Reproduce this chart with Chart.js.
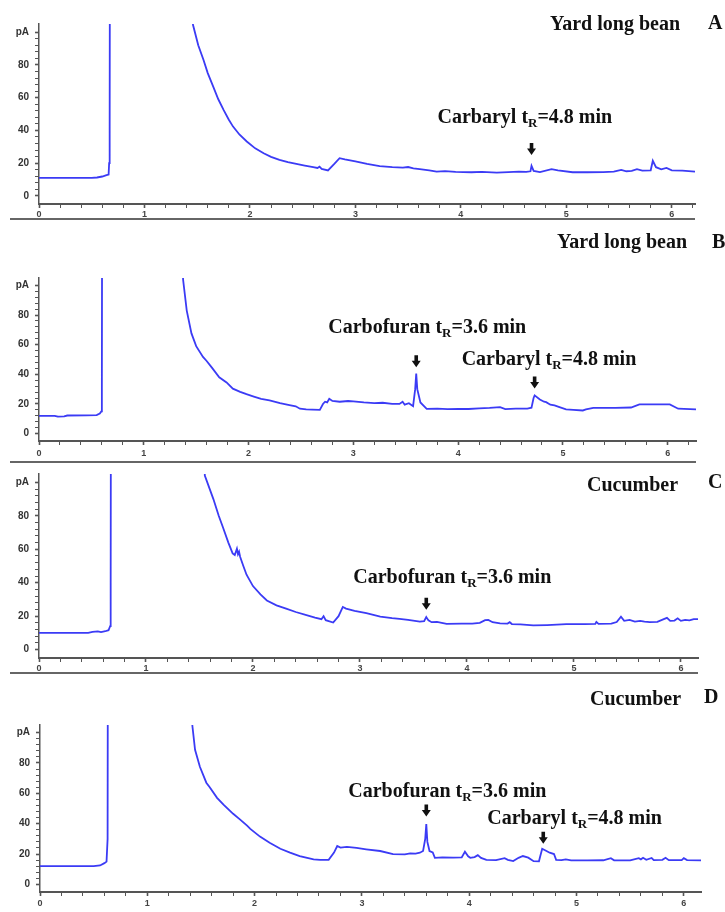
<!DOCTYPE html>
<html>
<head>
<meta charset="utf-8">
<script src="https://cdn.jsdelivr.net/npm/chart.js@4.4.1/dist/chart.umd.min.js"></script>
<style>
  body { margin: 0; background: #fff; }
  #wrap { position: relative; width: 725px; height: 912px; overflow: hidden; }
  #wrap canvas { position: absolute; left: 0; }
  .sep { position: absolute; left: 10px; height: 2px; background: #666; }
</style>
</head>
<body>
<div id="wrap">
  <canvas id="chartA" width="725" height="226" style="top:0px"></canvas>
  <canvas id="chartB" width="725" height="234" style="top:228px"></canvas>
  <canvas id="chartC" width="725" height="212" style="top:462px"></canvas>
  <canvas id="chartD" width="725" height="238" style="top:674px"></canvas>
  <div class="sep" style="top:218px;width:685px"></div>
  <div class="sep" style="top:461px;width:686px"></div>
  <div class="sep" style="top:672px;width:688px"></div>
</div>
<script>
// retention time (min) and signal (pA); 300 = off scale
const timeA = [0, 0.3, 0.5, 0.55, 0.6, 0.64, 0.66, 0.665, 0.67, 0.675, 1.40, 1.46, 1.51, 1.56, 1.60, 1.65, 1.70, 1.75, 1.80, 1.84, 1.90, 1.97, 2.05, 2.13, 2.20, 2.28, 2.36, 2.44, 2.52, 2.60, 2.64, 2.66, 2.68, 2.74, 2.80, 2.85, 2.90, 3.00, 3.11, 3.23, 3.35, 3.45, 3.50, 3.55, 3.61, 3.70, 3.77, 3.85, 3.95, 4.10, 4.20, 4.34, 4.45, 4.55, 4.62, 4.66, 4.67, 4.69, 4.75, 4.86, 4.92, 5.06, 5.20, 5.35, 5.45, 5.52, 5.57, 5.62, 5.67, 5.72, 5.80, 5.82, 5.85, 5.90, 5.95, 6.00, 6.10, 6.22];
const signalA = [11, 11, 11, 11.2, 11.8, 12.6, 13, 20, 40, 300, 300, 104.5, 92, 83, 75, 67, 59, 52.5, 46.5, 42.3, 37.5, 33.2, 29, 26, 23.8, 22, 20.6, 19.5, 18.5, 17.5, 17, 17.8, 16.5, 15.5, 19.5, 23, 22.2, 21, 19.5, 18.2, 17.5, 17.2, 17.6, 16.8, 16.3, 15.6, 14.8, 15.1, 14.6, 14.4, 14.6, 14.2, 14.5, 14.8, 14.6, 15, 18.3, 15.2, 14.5, 16.3, 15.6, 14.4, 14.4, 14.5, 14.8, 15.8, 15.0, 15.2, 16.3, 15.4, 15.6, 21.4, 17.5, 16.2, 17, 15.6, 15.4, 14.8];

const timeB = [0, 0.15, 0.18, 0.24, 0.27, 0.45, 0.55, 0.58, 0.595, 0.60, 0.605, 1.32, 1.375, 1.41, 1.455, 1.50, 1.565, 1.60, 1.65, 1.72, 1.79, 1.85, 1.92, 1.98, 2.05, 2.12, 2.20, 2.30, 2.39, 2.45, 2.49, 2.55, 2.61, 2.68, 2.71, 2.73, 2.75, 2.77, 2.80, 2.87, 2.95, 3.00, 3.10, 3.20, 3.28, 3.37, 3.44, 3.47, 3.49, 3.53, 3.57, 3.59, 3.60, 3.61, 3.64, 3.70, 3.80, 3.90, 4.00, 4.10, 4.20, 4.30, 4.40, 4.45, 4.55, 4.66, 4.70, 4.72, 4.73, 4.78, 4.82, 4.84, 4.88, 4.92, 4.96, 5.03, 5.10, 5.19, 5.22, 5.29, 5.50, 5.65, 5.73, 6.02, 6.10, 6.27];
const signalB = [12, 12, 11.4, 11.6, 12.2, 12.3, 12.5, 13.5, 15, 30, 300, 300, 104, 83, 67.6, 59, 51.7, 49, 44.5, 38, 34.5, 30.3, 28.2, 26.6, 25, 23.5, 22.4, 20.5, 19.2, 18.4, 16.8, 16.4, 16.2, 16, 20, 21.5, 21, 23.5, 22, 21.5, 22, 21.8, 21, 20.6, 20.8, 20, 20, 21.5, 19.5, 20.5, 18.5, 30, 40.5, 30, 21, 16.7, 16.8, 16.5, 16.7, 16.6, 17, 17.3, 17.8, 16.5, 16.8, 16.9, 17.5, 24, 25.8, 23, 21.5, 21.2, 19.5, 19, 18, 16.3, 16, 15.6, 16.3, 17.3, 17.4, 17.6, 19.7, 19.7, 16.8, 16.3];

const timeC = [0, 0.46, 0.50, 0.55, 0.58, 0.62, 0.65, 0.665, 0.67, 0.675, 1.48, 1.55, 1.63, 1.68, 1.72, 1.77, 1.81, 1.83, 1.85, 1.86, 1.87, 1.88, 1.91, 1.94, 2.00, 2.07, 2.13, 2.22, 2.31, 2.40, 2.50, 2.58, 2.64, 2.66, 2.68, 2.75, 2.80, 2.84, 2.87, 2.95, 3.06, 3.19, 3.30, 3.37, 3.45, 3.56, 3.60, 3.62, 3.64, 3.67, 3.72, 3.81, 3.95, 4.05, 4.12, 4.17, 4.20, 4.24, 4.31, 4.38, 4.40, 4.42, 4.50, 4.62, 4.75, 4.93, 5.10, 5.20, 5.21, 5.23, 5.35, 5.40, 5.44, 5.47, 5.52, 5.57, 5.62, 5.66, 5.71, 5.78, 5.84, 5.87, 5.90, 5.94, 5.97, 6.00, 6.04, 6.08, 6.12, 6.16];
const signalC = [10, 10, 10.6, 10.9, 10.5, 11, 11.6, 14, 40, 300, 300, 104, 90, 80, 73, 64, 57.5, 56.5, 60.3, 57, 58.5, 55.5, 50, 44.8, 38, 33, 29.4, 26.5, 24.5, 22.5, 20.7, 19.2, 18.2, 20, 17.6, 16.2, 20, 25.5, 24.5, 23.2, 21.8, 19.8, 18.8, 18.4, 17.8, 16.8, 17, 19.5, 17.5, 16.4, 16.6, 15.4, 15.5, 15.6, 16, 17.6, 17.8, 16.4, 15.7, 15.6, 16.4, 15.3, 15.1, 14.5, 14.7, 15.2, 15.3, 15.4, 16.6, 15.4, 15.5, 16.5, 19.7, 17.2, 17.8, 16.8, 17.2, 16.8, 16.4, 16.6, 18.2, 19, 17.2, 17.4, 18.7, 17.2, 17.8, 17.5, 18.2, 18.2];

const timeD = [0, 0.50, 0.56, 0.60, 0.62, 0.63, 0.635, 1.36, 1.42, 1.445, 1.49, 1.55, 1.58, 1.65, 1.71, 1.80, 1.86, 1.93, 1.96, 2.05, 2.14, 2.24, 2.33, 2.42, 2.49, 2.55, 2.61, 2.69, 2.74, 2.77, 2.80, 2.86, 2.95, 3.04, 3.17, 3.29, 3.40, 3.45, 3.50, 3.54, 3.57, 3.59, 3.60, 3.61, 3.63, 3.66, 3.68, 3.75, 3.85, 3.93, 3.96, 3.99, 4.01, 4.05, 4.08, 4.11, 4.16, 4.25, 4.33, 4.36, 4.41, 4.46, 4.50, 4.55, 4.60, 4.65, 4.66, 4.68, 4.72, 4.75, 4.79, 4.81, 4.86, 4.90, 4.95, 5.10, 5.25, 5.32, 5.35, 5.50, 5.58, 5.60, 5.62, 5.65, 5.70, 5.72, 5.80, 5.83, 5.86, 5.98, 6.00, 6.03, 6.17];
const signalD = [12, 12, 12.5, 14, 15, 30, 300, 300, 104.5, 88.7, 77.5, 67, 64.2, 57, 52.5, 46.5, 43, 38.7, 36.6, 31.5, 27.5, 23.5, 20.9, 18.7, 17.5, 16.5, 16.2, 16.2, 21, 25.3, 24.2, 24.7, 24, 23.1, 22, 19.9, 19.8, 20.5, 20.3, 20.9, 22, 30, 39.8, 28, 22, 21, 17.5, 17.8, 17.6, 17.8, 21.5, 18.5, 17.5, 18, 19.3, 17.5, 16.2, 16, 17.3, 16.2, 15.4, 17.5, 18.7, 17.6, 15.3, 15.2, 18, 23.5, 22, 20.9, 20, 16.2, 16, 16.5, 15.8, 15.8, 15.9, 17.3, 15.9, 15.8, 17.3, 16.5, 17.5, 16.2, 17.4, 16.0, 16.2, 17.5, 16, 16, 17.3, 16, 15.8];

const xTickLabels = ['0', '1', '2', '3', '4', '5', '6'];
const yTickValues = [0, 20, 40, 60, 80, 100];
const yTickLabels = ['0', '20', '40', '60', '80', 'pA'];

const traceColor = '#3b3bf5';
const serif = '"Liberation Serif", "Times New Roman", serif';

const panels = [
  { id: 'chartA', t: timeA, s: signalA, xMax: 6.22, padTop: 24, padRight: 30, yWidth: 39, xHeight: 22, xPad: 1,
    title: 'Yard long bean', titleX: 550, titleY: 30, letter: 'A', letterX: 708, letterY: 29,
    notes: [{ name: 'Carbaryl t', rest: '=4.8 min', t: 4.67, v: 25, dx: -94, dy: -32 }] },
  { id: 'chartB', t: timeB, s: signalB, xMax: 6.27, padTop: 50, padRight: 29, yWidth: 39, xHeight: 21, xPad: 3,
    title: 'Yard long bean', titleX: 557, titleY: 20, letter: 'B', letterX: 712, letterY: 20,
    notes: [{ name: 'Carbofuran t', rest: '=3.6 min', t: 3.6, v: 44.7, dx: -88, dy: -34 },
            { name: 'Carbaryl t', rest: '=4.8 min', t: 4.73, v: 30.5, dx: -73, dy: -23 }] },
  { id: 'chartC', t: timeC, s: signalC, xMax: 6.16, padTop: 8, padRight: 27, yWidth: 39, xHeight: 16, xPad: 1,
    title: 'Cucumber', titleX: 587, titleY: 29, letter: 'C', letterX: 708, letterY: 26,
    notes: [{ name: 'Carbofuran t', rest: '=3.6 min', t: 3.62, v: 23.8, dx: -73, dy: -27 }] },
  { id: 'chartD', t: timeD, s: signalD, xMax: 6.16, padTop: 51, padRight: 24, yWidth: 40, xHeight: 20, xPad: 2,
    title: 'Cucumber', titleX: 590, titleY: 31, letter: 'D', letterX: 704, letterY: 29,
    notes: [{ name: 'Carbofuran t', rest: '=3.6 min', t: 3.6, v: 44.7, dx: -78, dy: -20 },
            { name: 'Carbaryl t', rest: '=4.8 min', t: 4.69, v: 26.7, dx: -56, dy: -20 }] }
];

// labels, arrows and peak annotations
const notesPlugin = {
  id: 'notes',
  afterDraw(chart) {
    const p = chart.options.plugins.notes;
    const ctx = chart.ctx;
    const xs = chart.scales.x, ys = chart.scales.y;
    ctx.save();
    ctx.fillStyle = '#111';
    ctx.textBaseline = 'alphabetic';
    ctx.textAlign = 'left';
    ctx.font = 'bold 20px ' + serif;
    ctx.fillText(p.title, p.titleX, p.titleY);
    ctx.fillText(p.letter, p.letterX, p.letterY);
    p.notes.forEach(n => {
      const ax = xs.getPixelForValue(n.t);
      const ay = ys.getPixelForValue(n.v);
      // arrow
      ctx.beginPath();
      ctx.moveTo(ax - 1.8, ay - 12);
      ctx.lineTo(ax + 1.8, ay - 12);
      ctx.lineTo(ax + 1.8, ay - 6.5);
      ctx.lineTo(ax + 4.5, ay - 6.5);
      ctx.lineTo(ax, ay);
      ctx.lineTo(ax - 4.5, ay - 6.5);
      ctx.lineTo(ax - 1.8, ay - 6.5);
      ctx.closePath();
      ctx.fill();
      // text with subscript R
      let x = ax + n.dx;
      const y = ay + n.dy;
      ctx.font = 'bold 20px ' + serif;
      ctx.fillText(n.name, x, y);
      x += ctx.measureText(n.name).width;
      ctx.font = 'bold 13px ' + serif;
      ctx.fillText('R', x, y + 4);
      x += ctx.measureText('R').width;
      ctx.font = 'bold 20px ' + serif;
      ctx.fillText(n.rest, x, y);
    });
    ctx.restore();
  }
};

panels.forEach(p => {
  const points = p.t.map((t, i) => ({ x: t, y: p.s[i] }));
  new Chart(document.getElementById(p.id), {
    type: 'line',
    data: {
      datasets: [{
        data: points,
        borderColor: traceColor,
        borderWidth: 1.8,
        pointRadius: 0,
        tension: 0,
        fill: false
      }]
    },
    options: {
      responsive: false,
      animation: false,
      events: [],
      layout: { padding: { top: p.padTop, right: p.padRight, left: 0, bottom: 0 } },
      plugins: {
        legend: { display: false },
        tooltip: { enabled: false },
        notes: p
      },
      scales: {
        x: {
          type: 'linear',
          min: 0,
          max: p.xMax,
          afterFit: s => { s.height = p.xHeight; s.paddingLeft = 0; s.paddingRight = 0; },
          border: { display: true, color: '#555', width: 2 },
          grid: {
            drawOnChartArea: false,
            tickLength: 4,
            tickColor: '#555',
            tickWidth: c => Number.isInteger(Math.round(c.tick.value * 1000) / 1000) ? 1.6 : 1
          },
          ticks: {
            stepSize: 0.2,
            includeBounds: false,
            autoSkip: false,
            maxRotation: 0,
            padding: p.xPad,
            color: '#444',
            font: { family: '"Liberation Sans", Arial, sans-serif', size: 9, weight: 'bold' },
            callback: v => {
              const r = Math.round(v);
              return Math.abs(v - r) < 1e-6 && xTickLabels[r] !== undefined ? xTickLabels[r] : '';
            }
          }
        },
        y: {
          min: -5,
          max: 105,
          afterFit: s => { s.width = p.yWidth; },
          afterBuildTicks: s => { s.ticks = s.ticks.filter(t => t.value >= 0 && t.value <= 100); },
          border: { display: true, color: '#555', width: 1.5 },
          grid: {
            drawOnChartArea: false,
            tickLength: 4,
            tickColor: '#555',
            tickWidth: c => yTickValues.includes(c.tick.value) ? 1.6 : 1
          },
          ticks: {
            stepSize: 4,
            includeBounds: false,
            autoSkip: false,
            padding: 6,
            color: '#333',
            font: { family: '"Liberation Sans", Arial, sans-serif', size: 10, weight: 'bold' },
            callback: v => {
              const i = yTickValues.indexOf(v);
              return i >= 0 ? yTickLabels[i] : '';
            }
          }
        }
      }
    },
    plugins: [notesPlugin]
  });
});
</script>
</body>
</html>
